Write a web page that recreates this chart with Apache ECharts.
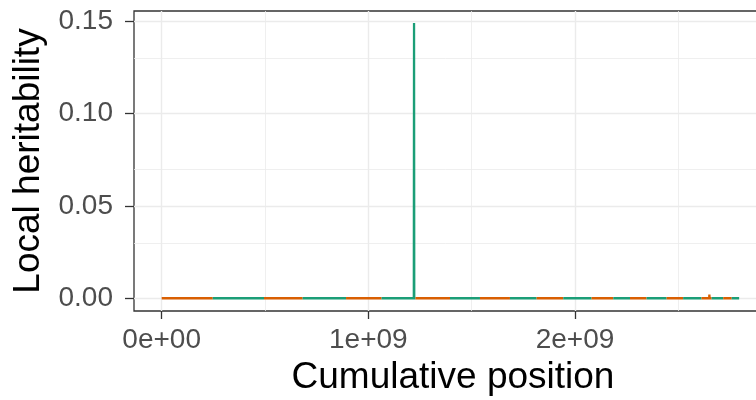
<!DOCTYPE html>
<html>
<head>
<meta charset="utf-8">
<script src="https://cdn.jsdelivr.net/npm/echarts@6/dist/echarts.min.js"></script>
<style>
  html, body { margin: 0; padding: 0; background: #fff; }
  #chart { width: 756px; height: 400px; }
</style>
</head>
<body>
<div id="chart"></div>
<script>
// Cumulative genome coordinates (bp) of the first and last locus on each autosome
const chromBounds = [
  0.000e9, 0.247e9, 0.495e9, 0.682e9, 0.892e9, 1.064e9, 1.228e9, 1.395e9,
  1.540e9, 1.685e9, 1.814e9, 1.943e9, 2.080e9, 2.185e9, 2.266e9, 2.346e9,
  2.443e9, 2.523e9, 2.612e9, 2.661e9, 2.717e9, 2.758e9, 2.794e9
];
// Loci with non-zero local heritability (everything else is 0)
const peakPos = [1.221e9, 2.650e9];
const peakVal = [0.149, 0.002];
const peakWidth = 1e6;

// Axis ticks
const xTickValues = [0, 1e9, 2e9];
const xTickLabels = ['0e+00', '1e+09', '2e+09'];
const xMinorValues = [0.5e9, 1.5e9, 2.5e9];
const yTickValues = [0, 0.05, 0.10, 0.15];
const yTickLabels = ['0.00', '0.05', '0.10', '0.15'];
const yMinorValues = [0.025, 0.075, 0.125];

const colOdd = '#D95F02';
const colEven = '#1B9E77';
const font = "'Liberation Sans', Arial, Helvetica, sans-serif";

const series = [];

// Panel grid lines, kept underneath the data lines
series.push({
  type: 'line', data: [], silent: true, z: 1,
  markLine: {
    z: 1, silent: true, symbol: 'none', label: { show: false },
    animation: false,
    data: [
      ...xTickValues.map(v => ({ xAxis: v, lineStyle: { color: '#ebebeb', width: 1.4, type: 'solid' } })),
      ...xMinorValues.map(v => ({ xAxis: v, lineStyle: { color: '#ebebeb', width: 0.8, type: 'solid' } })),
      ...yTickValues.map(v => ({ yAxis: v, lineStyle: { color: '#ebebeb', width: 1.4, type: 'solid' } })),
      ...yMinorValues.map(v => ({ yAxis: v, lineStyle: { color: '#ebebeb', width: 0.8, type: 'solid' } }))
    ]
  }
});

// One line per chromosome, alternating colours
for (let c = 0; c < chromBounds.length - 1; c++) {
  const start = chromBounds[c], end = chromBounds[c + 1];
  const pts = [[start, 0]];
  peakPos.forEach((p, i) => {
    if (p > start && p < end) {
      pts.push([p - peakWidth, 0], [p, peakVal[i]], [p + peakWidth, 0]);
    }
  });
  pts.push([end, 0]);
  series.push({
    type: 'line', name: 'chr' + (c + 1), data: pts, z: 3,
    showSymbol: false, symbol: 'none', silent: true,
    lineStyle: { color: c % 2 === 0 ? colOdd : colEven, width: 2.3 },
    animation: false
  });
}

const chart = echarts.init(document.getElementById('chart'), null, { renderer: 'canvas' });
chart.setOption({
  animation: false,
  backgroundColor: '#ffffff',
  grid: {
    left: 134, top: 11, width: 638, height: 300,
    containLabel: false, outerBoundsMode: 'none',
    show: true, borderColor: '#333333', borderWidth: 1.3, backgroundColor: 'transparent'
  },
  xAxis: {
    type: 'value', min: -0.134e9, max: 2.953e9,
    name: 'Cumulative position', nameLocation: 'middle', nameGap: 47,
    nameTextStyle: { fontFamily: font, fontSize: 37, color: '#000' },
    axisLine: { show: false, onZero: false },
    splitLine: { show: false },
    axisTick: { show: true, customValues: xTickValues, length: 8, lineStyle: { color: '#333', width: 1.3 } },
    axisLabel: {
      customValues: xTickValues, margin: 15,
      fontFamily: font, fontSize: 28, color: '#4d4d4d',
      formatter: v => xTickLabels[xTickValues.indexOf(v)] ?? ''
    }
  },
  yAxis: {
    type: 'value', min: -0.0069, max: 0.1555,
    name: 'Local heritability', nameLocation: 'middle', nameGap: 61,
    nameTextStyle: { fontFamily: font, fontSize: 37, color: '#000' },
    axisLine: { show: false, onZero: false },
    splitLine: { show: false },
    axisTick: { show: true, customValues: yTickValues, length: 9, lineStyle: { color: '#333', width: 1.3 } },
    axisLabel: {
      customValues: yTickValues, margin: 21,
      fontFamily: font, fontSize: 28, color: '#4d4d4d',
      formatter: v => yTickLabels[yTickValues.findIndex(t => Math.abs(t - v) < 1e-9)] ?? ''
    }
  },
  series: series
});
</script>
</body>
</html>
